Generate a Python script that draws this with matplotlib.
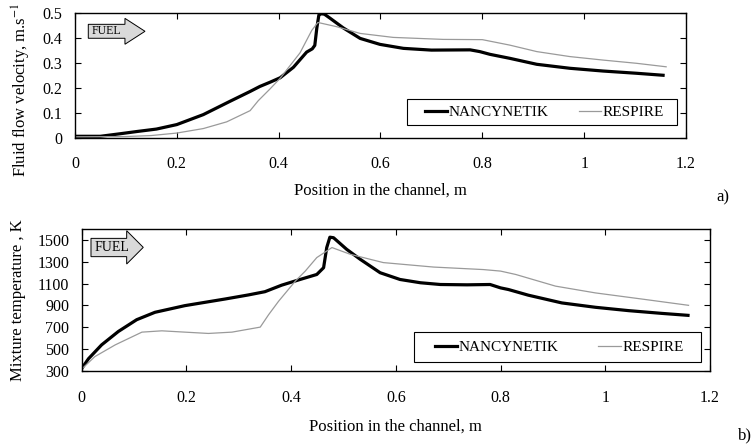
import matplotlib

matplotlib.use("Agg")
import matplotlib.pyplot as plt
from matplotlib.patches import Polygon, Rectangle

plt.rcParams["font.family"] = ["Liberation Serif", "DejaVu Serif"]
plt.rcParams["mathtext.fontset"] = "stix"

# a) fluid flow velocity, m/s
vel_x_nancy = [0.0, 0.05, 0.088, 0.121, 0.16, 0.2, 0.252, 0.304, 0.344, 0.363, 0.383,
               0.403, 0.429, 0.455, 0.466, 0.471, 0.475, 0.479, 0.484, 0.49, 0.501,
               0.527, 0.56, 0.599, 0.645, 0.7, 0.776, 0.795, 0.815, 0.854, 0.907,
               0.972, 1.037, 1.103, 1.155]
vel_nancy = [0.005, 0.005, 0.015, 0.024, 0.034, 0.052, 0.092, 0.145, 0.185, 0.205, 0.222,
             0.24, 0.282, 0.343, 0.356, 0.37, 0.44, 0.492, 0.497, 0.495, 0.479,
             0.44, 0.398, 0.374, 0.358, 0.351, 0.352, 0.345, 0.334, 0.318, 0.294,
             0.278, 0.267, 0.258, 0.25]
vel_x_resp = [0.0, 0.1, 0.15, 0.2, 0.252, 0.298, 0.344, 0.36, 0.383, 0.403, 0.442,
              0.465, 0.477, 0.514, 0.56, 0.625, 0.723, 0.8, 0.854, 0.907, 0.972,
              1.037, 1.103, 1.161]
vel_resp = [0.003, 0.004, 0.008, 0.018, 0.036, 0.063, 0.108, 0.148, 0.195, 0.238, 0.34,
            0.43, 0.462, 0.445, 0.418, 0.402, 0.394, 0.393, 0.371, 0.345, 0.325,
            0.311, 0.298, 0.284]

# b) mixture temperature, K
tmp_x_nancy = [0.0, 0.013, 0.038, 0.07, 0.105, 0.14, 0.197, 0.274, 0.318, 0.35, 0.382,
               0.417, 0.449, 0.462, 0.468, 0.474, 0.481, 0.506, 0.532, 0.57, 0.608,
               0.647, 0.685, 0.736, 0.78, 0.8, 0.815, 0.853, 0.917, 0.981, 1.045,
               1.108, 1.158]
tmp_nancy = [320, 410, 537, 660, 768, 836, 897, 958, 995, 1025, 1085,
             1137, 1183, 1245, 1430, 1525, 1520, 1414, 1322, 1199, 1137,
             1107, 1091, 1088, 1091, 1060, 1045, 993, 922, 882, 851,
             826, 808]
tmp_x_resp = [0.0, 0.025, 0.064, 0.115, 0.153, 0.197, 0.242, 0.287, 0.341, 0.357, 0.376,
              0.408, 0.427, 0.449, 0.478, 0.513, 0.576, 0.672, 0.767, 0.8, 0.829,
              0.905, 0.981, 1.077, 1.159]
tmp_resp = [315, 429, 537, 654, 666, 654, 642, 654, 700, 814, 937,
            1122, 1214, 1338, 1430, 1368, 1292, 1251, 1228, 1214, 1183,
            1076, 1014, 953, 900]

x_ticks = [0, 0.2, 0.4, 0.6, 0.8, 1.0, 1.2]
x_labels = ["0", "0.2", "0.4", "0.6", "0.8", "1", "1.2"]
vel_ticks = [0, 0.1, 0.2, 0.3, 0.4, 0.5]
vel_labels = ["0", "0.1", "0.2", "0.3", "0.4", "0.5"]
tmp_ticks = [300, 500, 700, 900, 1100, 1300, 1500]

fig = plt.figure(figsize=(7.55, 4.48), dpi=100)
ax1 = fig.add_axes([0.0993, 0.693, 0.8093, 0.278])
ax2 = fig.add_axes([0.1082, 0.1725, 0.8322, 0.3163])

grey = "#9a9a9a"


def style_axis(ax, xpad, label_y):
    ax.tick_params(direction="in", top=True, right=True, length=4, width=0.8,
                   labelsize=11.5)
    ax.tick_params(axis="x", pad=xpad)
    ax.tick_params(axis="y", pad=9)
    for s in ax.spines.values():
        s.set_linewidth(1.0)
    ax.set_xlim(0, 1.2)
    ax.set_xticks(x_ticks)
    ax.set_xticklabels(x_labels)
    ax.set_xlabel("Position in the channel, m", fontsize=12)
    ax.xaxis.set_label_coords(0.5, label_y)


def fuel_arrow(ax, x0, xb, xt, yb0, yb1, yh0, yh1, fs):
    ym = (yh0 + yh1) / 2
    pts = [(x0, yb0), (xb, yb0), (xb, yh0), (xt, ym), (xb, yh1), (xb, yb1), (x0, yb1)]
    ax.add_patch(Polygon(pts, closed=True, transform=ax.transAxes, facecolor="#d9d9d9",
                         edgecolor="black", linewidth=0.7, zorder=5))
    ax.text(x0 + 0.006, (yb0 + yb1) / 2, "FUEL", transform=ax.transAxes, fontsize=fs,
            va="center", ha="left", zorder=6)


def boxed_legend(ax, box, anchor, spacing):
    ax.add_patch(Rectangle(box[:2], box[2], box[3], transform=ax.transAxes,
                           facecolor="white", edgecolor="black", linewidth=0.8, zorder=4))
    leg = ax.legend(loc="center left", bbox_to_anchor=anchor, ncol=2, fontsize=11,
                    frameon=False, borderpad=0, borderaxespad=0, handlelength=1.45,
                    handletextpad=0.1, columnspacing=spacing)
    leg.set_zorder(5)


# panel a
ax1.plot(vel_x_nancy, vel_nancy, color="black", lw=2.3, label="NANCYNETIK")
ax1.plot(vel_x_resp, vel_resp, color=grey, lw=0.9, label="RESPIRE")
style_axis(ax1, 13, -0.36)
ax1.set_ylim(0, 0.5)
ax1.set_yticks(vel_ticks)
ax1.set_yticklabels(vel_labels)
ax1.set_ylabel("Fluid flow velocity, m.s$^{-1}$", fontsize=12)
ax1.yaxis.set_label_coords(-0.069, 0.38)
boxed_legend(ax1, (0.5434, 0.1, 0.442, 0.209), (0.573, 0.205), 2.0)
fuel_arrow(ax1, 0.0218, 0.0818, 0.1146, 0.797, 0.909, 0.749, 0.957, 8.5)

# panel b
ax2.plot(tmp_x_nancy, tmp_nancy, color="black", lw=2.3, label="NANCYNETIK")
ax2.plot(tmp_x_resp, tmp_resp, color=grey, lw=0.9, label="RESPIRE")
style_axis(ax2, 14, -0.335)
ax2.set_ylim(300, 1600)
ax2.set_yticks(tmp_ticks)
ax2.set_ylabel("Mixture temperature , K", fontsize=12)
ax2.yaxis.set_label_coords(-0.089, 0.5)
boxed_legend(ax2, (0.5294, 0.059, 0.4558, 0.216), (0.5623, 0.167), 2.6)
fuel_arrow(ax2, 0.0148, 0.0716, 0.098, 0.805, 0.934, 0.753, 0.988, 10)

fig.text(716 / 755, 1 - 197 / 448, "a)", fontsize=12, ha="left", va="center")
fig.text(738 / 755, 1 - 435 / 448, "b)", fontsize=12, ha="left", va="center")

fig.savefig("out.png", dpi=100)
